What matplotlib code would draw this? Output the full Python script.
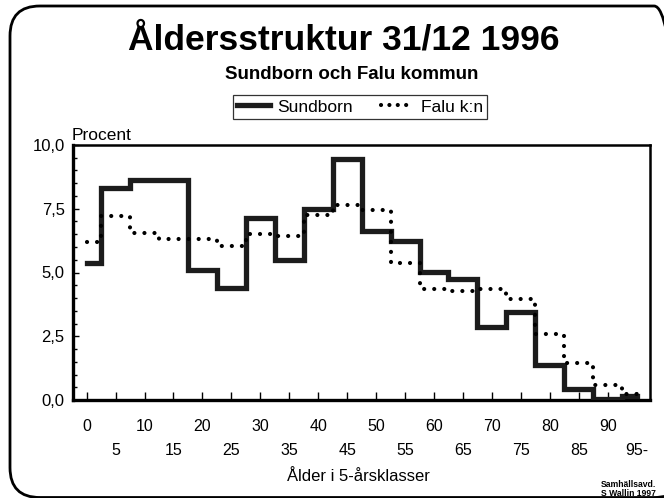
import matplotlib
matplotlib.use("Agg")
import matplotlib.pyplot as plt
from matplotlib.patches import FancyBboxPatch
from matplotlib.lines import Line2D

plt.rcParams['font.family'] = ['Liberation Sans', 'DejaVu Sans']

# åldersklasser (5-årsklasser), procent av befolkningen
age_groups = list(range(0, 100, 5))
sundborn = [5.37, 8.32, 8.62, 8.62, 5.09, 4.41, 7.13, 5.50, 7.50, 9.47,
            6.64, 6.25, 5.03, 4.76, 2.87, 3.46, 1.36, 0.42, 0.02, 0.16]
falu = [6.21, 7.20, 6.55, 6.32, 6.32, 6.03, 6.51, 6.45, 7.24, 7.63,
        7.46, 5.36, 4.37, 4.28, 4.34, 3.95, 2.57, 1.45, 0.57, 0.22]

row1_labels = ["0", "10", "20", "30", "40", "50", "60", "70", "80", "90"]
row2_labels = ["5", "15", "25", "35", "45", "55", "65", "75", "85", "95-"]
y_ticks = [0, 2.5, 5, 7.5, 10]
y_tick_labels = ["0,0", "2,5", "5,0", "7,5", "10,0"]

W, H = 664, 498
fig = plt.figure(figsize=(W / 100, H / 100), dpi=100)
ax = fig.add_axes([73 / W, 1 - 400 / H, (650 - 73) / W, (400 - 145) / H])

idx = list(range(len(age_groups)))
col = '#1c1c1c'
ax.step(idx, sundborn, where='mid', color=col, linewidth=3.8,
        solid_joinstyle='miter', label='Sundborn', zorder=3)
ax.step(idx, falu, where='mid', color='black', linewidth=3.0,
        linestyle=(0, (0.01, 2.4)), dash_capstyle='round', label='Falu k:n', zorder=4)

ax.set_xlim(-0.47, 19.46)
ax.set_ylim(0, 10)

ax.set_yticks(y_ticks)
ax.set_yticklabels(y_tick_labels, fontsize=12)
ax.set_yticks([v / 2 for v in range(21)], minor=True)

ax.set_xticks(idx[0::2])
ax.set_xticklabels(row1_labels, fontsize=11.5)
ax.set_xticks(idx[1::2], minor=True)
ax.set_xticklabels(row2_labels, minor=True, fontsize=11.5)

ax.tick_params(axis='x', which='major', direction='in', length=6, width=1, pad=14)
ax.tick_params(axis='x', which='minor', direction='in', length=6, width=1, pad=31)
ax.tick_params(axis='y', which='major', direction='in', length=4, width=1, pad=6)
ax.tick_params(axis='y', which='minor', direction='in', length=3, width=1)

for side, lw in [('left', 2.4), ('bottom', 2.4), ('top', 1.8), ('right', 1.8)]:
    ax.spines[side].set_linewidth(lw)

# titlar och texter
fig.text(0.518, 1 - 50 / H, "Åldersstruktur 31/12 1996", ha='center', va='baseline',
         fontsize=25.5, fontweight='bold')
fig.text(0.530, 1 - 79 / H, "Sundborn och Falu kommun", ha='center', va='baseline',
         fontsize=13.5, fontweight='bold')
fig.text(72 / W, 1 - 140 / H, "Procent", ha='left', va='baseline', fontsize=12.5)
fig.text(358 / W, 1 - 481 / H, "Ålder i 5-årsklasser", ha='center', va='baseline', fontsize=12)
fig.text(601 / W, 1 - 487 / H, "Samhällsavd.", ha='left', va='baseline', fontsize=6.2, fontweight='bold')
fig.text(601 / W, 1 - 496 / H, "S Wallin 1997", ha='left', va='baseline', fontsize=6.2, fontweight='bold')

handles = [Line2D([], [], color=col, linewidth=3.8),
           Line2D([], [], color='black', linewidth=3.0, linestyle=(0, (0.01, 2.0)),
                  dash_capstyle='round')]
leg = fig.legend(handles, ["Sundborn", "Falu k:n"], loc='center', ncol=2,
                 bbox_to_anchor=(360 / W, 1 - 107 / H), fontsize=12.5, frameon=True,
                 fancybox=False, edgecolor='black', handlelength=1.9, handletextpad=0.4,
                 columnspacing=1.6, borderpad=0.25)
leg.get_frame().set_linewidth(0.9)

# rundad ram runt hela figuren
border = FancyBboxPatch((10 / W, 0.5 / H), (W + 20 - 10) / W, (H - 6.5) / H,
                        boxstyle="round,pad=0,rounding_size=0.045",
                        transform=fig.transFigure, fill=False, edgecolor='black',
                        linewidth=2.0, mutation_aspect=W / H, clip_on=False)
fig.patches.append(border)

fig.savefig("out.png", dpi=100)
